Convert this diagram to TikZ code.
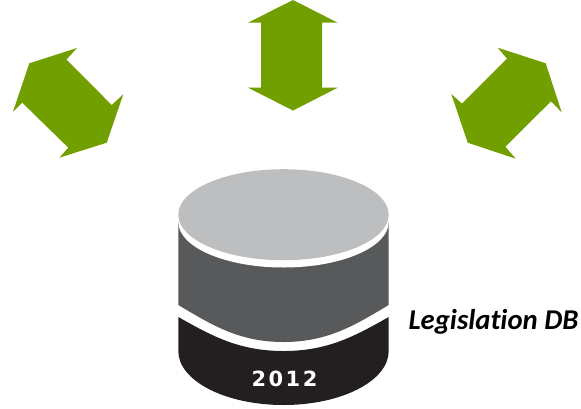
\documentclass[tikz,border=0pt]{standalone}
\usepackage{fontspec}
\setmainfont{Carlito}[Ligatures=NoCommon]
\newfontfamily\digitfont[LetterSpace=12]{DejaVu Sans}
\definecolor{arrowgreen}{HTML}{719F00}
\definecolor{toplight}{HTML}{BDBEC0}
\definecolor{midgray}{HTML}{58595B}
\definecolor{darkbase}{HTML}{231F20}
\tikzset{arrowshape/.style={fill=arrowgreen,draw=none}}
\begin{document}
\begin{tikzpicture}[x=1bp,y=-1bp]
\useasboundingbox (0,0) rectangle (581,408);
% double arrows
\fill[arrowshape] (77,48) -- (66.5,59.5) -- (111.7,105) -- (123.3,94.3) -- (106.7,142.7) -- (59.3,157.7) -- (68.3,147.7) -- (22.3,102.7) -- (13,111.7) -- (29.3,63.3) -- cycle;
\fill[arrowshape] (293,0) -- (337.7,22.7) -- (322,22.7) -- (322,87.7) -- (337.7,87.7) -- (293,110.5) -- (248,87.7) -- (261,87.7) -- (261,22.7) -- (248,22.7) -- cycle;
\fill[arrowshape] (497.7,47.7) -- (545.7,63.3) -- (561.7,112.3) -- (551,101.3) -- (505.3,146.7) -- (515.7,158.7) -- (467.7,142.7) -- (451.3,94) -- (462,103.7) -- (507,58.7) -- cycle;
% cylinder
\fill[darkbase] (178.3,317) -- (178.3,351) arc[start angle=180,end angle=0,x radius=105.2,y radius=54] -- (388.7,317) .. controls (355,336) and (328,351) .. (283.5,351) .. controls (239,351) and (212,336) .. (178.3,317) -- cycle;
\fill[midgray] (178.3,222) -- (178.3,305) .. controls (212,325) and (239,342) .. (283.5,342) .. controls (328,342) and (355,325) .. (388.7,305) -- (388.7,222) -- cycle;
\begin{scope}
\clip (178.3,160) rectangle (388.7,280);
\fill[white] (283.5,222) ellipse[x radius=105.2,y radius=45.5];
\end{scope}
\fill[toplight] (283.5,214.7) ellipse[x radius=105.2,y radius=45.5];
\node[text=white,inner sep=0pt,font=\digitfont\bfseries\fontsize{21}{21}\selectfont] (year) at (284.5,379) {2012};
\node[text=black,inner sep=0pt,font=\bfseries\itshape\fontsize{28.8}{29}\selectfont] (dblabel) at (493.5,322) {Legislation DB};
\end{tikzpicture}
\end{document}
